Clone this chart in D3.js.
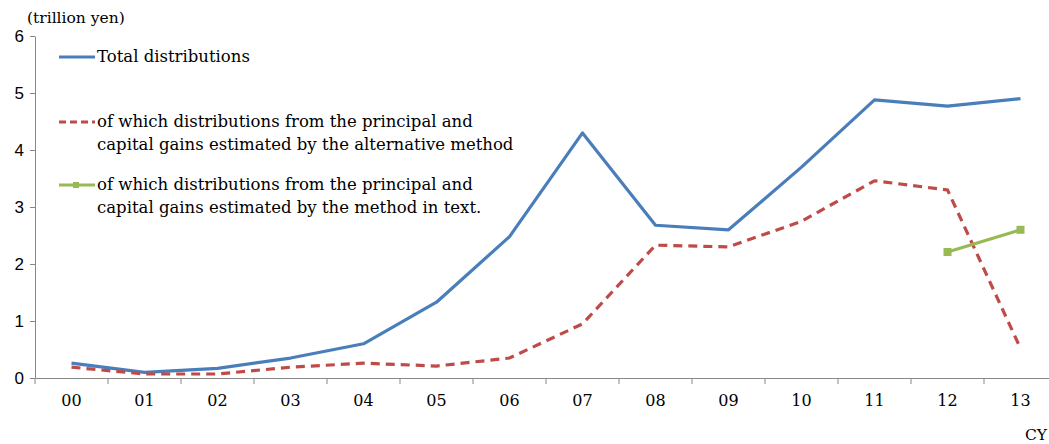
<!DOCTYPE html>
<html><head><meta charset="utf-8">
<script src="https://cdn.jsdelivr.net/npm/d3@7"></script>
<style>body{margin:0;background:#fff}</style>
</head><body><svg id="c" width="1049" height="444"></svg>
<script>
const categories = ["00","01","02","03","04","05","06","07","08","09","10","11","12","13"];
const totalDist = [0.26,0.10,0.17,0.35,0.60,1.33,2.48,4.30,2.68,2.60,3.70,4.88,4.77,4.90];
const altMethod = [0.19,0.07,0.07,0.19,0.26,0.21,0.35,0.95,2.33,2.30,2.75,3.46,3.30,0.52];
const textMethod = [null,null,null,null,null,null,null,null,null,null,null,null,2.21,2.60];
const yTicks = [0,1,2,3,4,5,6];
const legendLabels = [
  ["Total distributions"],
  ["of which distributions from the principal and","capital gains estimated by the alternative method"],
  ["of which distributions from the principal and","capital gains estimated by the method in text."]
];

const svg = d3.select("#c");
const x = d3.scaleBand().domain(categories).range([35, 1057]);
const y = d3.scaleLinear().domain([0,6]).range([378, 36]);
const serif = "DejaVu Serif";
const sans = "Liberation Sans";

const ya = svg.append("g").attr("transform","translate(35,0)")
  .call(d3.axisLeft(y).tickValues(yTicks).tickSize(5).tickSizeOuter(0).tickFormat(d3.format("d")));
ya.select(".domain").attr("stroke","#888");
ya.selectAll(".tick line").attr("stroke","#888");
ya.selectAll(".tick text").attr("font-family",sans).attr("font-size",17).attr("fill","#000").attr("x",-11);

const xa = svg.append("g").attr("transform","translate(0,378)")
  .call(d3.axisBottom(x).tickSize(0).tickSizeOuter(0));
xa.select(".domain").attr("stroke","#888");
xa.selectAll(".tick text").attr("font-family",serif).attr("font-size",16).attr("fill","#000").attr("dy","1.55em");
svg.append("g").selectAll("line").data(categories).join("line")
  .attr("x1",d=>x(d)).attr("x2",d=>x(d)).attr("y1",378).attr("y2",384).attr("stroke","#888");

svg.append("text").attr("x",27).attr("y",23).attr("font-family",serif).attr("font-size",15.5).text("(trillion yen)");
svg.append("text").attr("x",1025).attr("y",440).attr("font-family",serif).attr("font-size",15.5).text("CY");

const cx = d => x(d) + x.bandwidth()/2;
const line = d3.line().defined(d=>d.v!=null).x(d=>cx(d.c)).y(d=>y(d.v));
const mk = arr => categories.map((c,i)=>({c, v:arr[i]}));

svg.append("path").datum(mk(totalDist)).attr("d",line).attr("fill","none")
  .attr("stroke","#4a7ebb").attr("stroke-width",3.2).attr("stroke-linejoin","round");
svg.append("path").datum(mk(altMethod)).attr("d",line).attr("fill","none")
  .attr("stroke","#be4b48").attr("stroke-width",3.2).attr("stroke-dasharray","9,6");
svg.append("path").datum(mk(textMethod)).attr("d",line).attr("fill","none")
  .attr("stroke","#98b954").attr("stroke-width",3.2);
svg.append("g").selectAll("rect").data(mk(textMethod).filter(d=>d.v!=null)).join("rect")
  .attr("x",d=>cx(d.c)-4).attr("y",d=>y(d.v)-4).attr("width",8).attr("height",8).attr("fill","#98b954");

const legY = [57,122,185];
const legColors = ["#4a7ebb","#be4b48","#98b954"];
legY.forEach((ly,i)=>{
  const l = svg.append("line").attr("x1",59).attr("x2",95).attr("y1",ly).attr("y2",ly)
    .attr("stroke",legColors[i]).attr("stroke-width",3.2);
  if(i===1) l.attr("stroke-dasharray","7,4");
  if(i===2) svg.append("rect").attr("x",73).attr("y",ly-3).attr("width",6).attr("height",6).attr("fill",legColors[i]);
  legendLabels[i].forEach((t,j)=>{
    svg.append("text").attr("x",97).attr("y",ly+5+j*23).attr("font-family",serif)
      .attr("font-size",16.5).attr("fill","#000").text(t);
  });
});
</script></body></html>
